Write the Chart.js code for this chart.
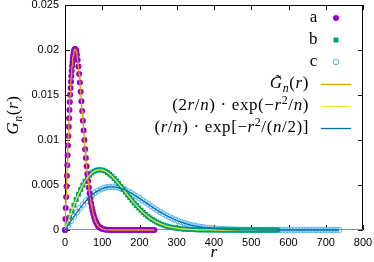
<!DOCTYPE html>
<html>
<head>
<meta charset="utf-8">
<script src="https://cdn.jsdelivr.net/npm/chart.js@4.4.0/dist/chart.umd.min.js"></script>
<style>
  html, body { margin: 0; padding: 0; background: #fff; }
</style>
</head>
<body>
<canvas id="chart" width="374" height="262"></canvas>
<script>
// axis ticks
const xTicks = [0, 100, 200, 300, 400, 500, 600, 700, 800];
const yTicks = [0, 0.005, 0.01, 0.015, 0.02, 0.025];
const yTickLabels = ['0', '0.005', '0.01', '0.015', '0.02', '0.025'];

// series a
const rA = [0,1,2,3,4,5,6,7,8,9,10,11,12,13,14,15,16,17,18,19,20,21,22,23,24,25,26,27,28,29,30,
  32,34,36,38,40,42,44,46,48,50,52,54,56,58,60,62,64,66,68,70,72,74,76,78,80,82,84,86,88,90,92,94,96,98,100,
  105,110,115,120,125,130,135,140,145,150,155,160,165,170,175,180,185,190,195,200,205,210,215,220,225,230,235,240];
const gA = [0,0.00123,0.00245,0.00366,0.00486,0.00603,0.00719,0.00831,0.00940,0.01045,0.01146,0.01243,0.01334,0.01421,0.01502,0.01578,
  0.01648,0.01711,0.01769,0.01821,0.01866,0.01905,0.01937,0.01964,0.01984,0.01999,0.02007,0.0201,0.02007,0.01999,0.01986,
  0.01946,0.01889,0.01817,0.01732,0.01639,0.01537,0.01431,0.01323,0.01213,0.01105,0.00999,0.00897,0.00800,0.00709,0.00623,
  0.00545,0.00473,0.00408,0.00350,0.00298,0.00253,0.00212,0.00178,0.00148,0.00122,0.00100,0.00082,0.00066,0.00053,0.00043,
  0.00034,0.00027,0.00021,0.00017,0.00013,
  0.00007,0.00003,0.00002,0.00001,0,0,0,0,0,0,0,0,0,0,0,0,0,0,0,0,0,0,0,0,0,0,0,0];

// series b
const rB = [0,6,12,18,24,30,36,42,48,54,60,66,72,78,84,90,96,102,108,114,120,126,132,138,144,150,156,162,168,174,180,186,192,198,
  204,210,216,222,228,234,240,246,252,258,264,270,276,282,288,294,300,306,312,318,324,330,336,342,348,354,360,366,372,378,384,390,396,
  402,408,414,420,426,432,438,444,450,456,462,468,474,480,486,492,498,504,510,516,522,528,534,540,546,552,558,564,570];
const gB = [0,0.00071,0.00141,0.00210,0.00276,0.00338,0.00397,0.00451,0.00499,0.00542,0.00579,0.00609,0.00634,0.00652,0.00664,0.00669,
  0.00669,0.00664,0.00654,0.00639,0.00620,0.00598,0.00573,0.00545,0.00516,0.00485,0.00454,0.00422,0.00390,0.00359,0.00329,0.00299,
  0.00271,0.00244,0.00219,0.00195,0.00173,0.00153,0.00134,0.00117,0.00102,0.00088,0.00076,0.00065,0.00056,0.00047,0.00040,0.00034,
  0.00028,0.00024,0.00020,0.00016,0.00013,0.00011,0.00009,0.00007,0.00006,0.00005,0.00004,0.00003,0.00002,0.00002,0.00002,0.00001,
  0.00001,0.00001,0.00001,
  0,0,0,0,0,0,0,0,0,0,0,0,0,0,0,0,0,0,0,0,0,0,0,0,0,0,0,0,0];

// series c
const rC = [0,8,16,24,32,40,48,56,64,72,80,88,96,104,112,120,128,136,144,152,160,168,176,184,192,200,208,216,224,232,240,248,256,
  264,272,280,288,296,304,312,320,328,336,344,352,360,368,376,384,392,400,408,416,424,432,440,448,456,464,472,480,488,496,504,512,
  520,528,536,544,552,560,568,576,584,592,600,608,616,624,632,640,648,656,664,672,680,688,696,704,712,720,728,736];
const gC = [0,0.00051,0.00101,0.00149,0.00196,0.00241,0.00282,0.00321,0.00355,0.00386,0.00413,0.00435,0.00453,0.00466,0.00475,0.00479,
  0.00480,0.00476,0.00470,0.00459,0.00447,0.00431,0.00414,0.00394,0.00374,0.00352,0.00330,0.00307,0.00285,0.00262,0.00241,0.00219,
  0.00199,0.00180,0.00161,0.00144,0.00128,0.00114,0.00100,0.00088,0.00077,0.00066,0.00057,0.00049,0.00042,0.00036,0.00031,0.00026,
  0.00022,0.00018,0.00015,0.00013,0.00010,0.00009,0.00007,0.00006,0.00005,0.00004,0.00003,0.00002,0.00002,0.00002,0.00001,0.00001,0.00001,
  0,0,0,0,0,0,0,0,0,0,0,0,0,0,0,0,0,0,0,0,0,0,0,0,0,0,0,0];

const pts = (rs, gs) => rs.map((r, i) => ({ x: r, y: gs[i] }));

const SERIF = '"Liberation Serif", "Times New Roman", serif';
const LS = 0.6; // extra letter spacing, px

// rich text: [text, style]; style letters: i = italic, ^ = superscript, _ = subscript, g = gap (px in text)
function richFont(s, size) {
  const it = s.includes('i') ? 'italic ' : '';
  const sz = (s.includes('^') || s.includes('_')) ? size * 0.7 : size;
  return it + sz + 'px ' + SERIF;
}
// split into glyphs, keeping combining marks with their base letter
const glyphs = t => t.match(/.[\u0300-\u036f]*/gu) || [];
function segWidth(ctx, t, s, size) {
  if (s === 'g') return +t;
  ctx.font = richFont(s, size);
  return glyphs(t).reduce((w, ch) => w + ctx.measureText(ch).width + LS, 0);
}
function drawRich(ctx, segs, x, yMid, size, align) {
  const w = segs.reduce((acc, [t, s]) => acc + segWidth(ctx, t, s, size), 0);
  let cx = align === 'right' ? x - w : align === 'center' ? x - w / 2 : x;
  ctx.textBaseline = 'alphabetic';
  ctx.textAlign = 'left';
  ctx.fillStyle = '#000';
  segs.forEach(([t, s]) => {
    if (s === 'g') { cx += +t; return; }
    ctx.font = richFont(s, size);
    let dy = 0;
    if (s.includes('^')) dy = -size * 0.4;
    if (s.includes('_')) dy = size * 0.2;
    glyphs(t).forEach(ch => {
      ctx.fillText(ch, cx, yMid + size * 0.26 + dy);
      cx += ctx.measureText(ch).width + LS;
    });
  });
}

const labelG = [['G\u0303', 'i'], ['n', 'i_'], ['(', ''], ['r', 'i'], [')', '']];
const label2 = [['(2', ''], ['r', 'i'], ['/', ''], ['n', 'i'], [')', ''], ['5', 'g'], ['·', ''], ['5', 'g'], ['exp(', ''], ['−', ''], ['r', 'i'], ['2', '^'], ['/', ''], ['n', 'i'], [')', '']];
const label3 = [['(', ''], ['r', 'i'], ['/', ''], ['n', 'i'], [')', ''], ['5', 'g'], ['·', ''], ['5', 'g'], ['exp[', ''], ['−', ''], ['r', 'i'], ['2', '^'], ['/(', ''], ['n', 'i'], ['/2)]', '']];
const yTitle = [['G', 'i'], ['n', 'i_'], ['(', ''], ['r', 'i'], [')', '']];

const frame = {
  id: 'frame',
  beforeDatasetsDraw(chart) {
    const { ctx, chartArea: a, scales: { x, y } } = chart;
    ctx.save();
    ctx.lineWidth = 1;
    ctx.strokeStyle = '#000';
    ctx.beginPath();
    ctx.moveTo(a.left + 0.5, a.bottom);
    ctx.lineTo(a.left + 0.5, a.top + 0.5);
    ctx.lineTo(a.right - 0.5, a.top + 0.5);
    ctx.lineTo(a.right - 0.5, a.bottom);
    xTicks.forEach(v => {
      const px = Math.round(x.getPixelForValue(v)) + 0.5;
      ctx.moveTo(px, a.bottom); ctx.lineTo(px, a.bottom - 5);
      ctx.moveTo(px, a.top); ctx.lineTo(px, a.top + 5);
    });
    yTicks.forEach(v => {
      const py = Math.round(y.getPixelForValue(v)) + 0.5;
      ctx.moveTo(a.left, py); ctx.lineTo(a.left + 5, py);
      ctx.moveTo(a.right, py); ctx.lineTo(a.right - 5, py);
    });
    ctx.stroke();
    ctx.strokeStyle = '#8c8c8c';
    ctx.beginPath();
    ctx.moveTo(a.left, a.bottom - 0.5);
    ctx.lineTo(a.right, a.bottom - 0.5);
    ctx.stroke();
    ctx.restore();
  },
  afterDraw(chart) {
    const { ctx } = chart;
    ctx.save();
    // axis titles
    drawRich(ctx, [['r', 'i']], 214, 253, 17, 'center');
    ctx.translate(14, 115);
    ctx.rotate(-Math.PI / 2);
    drawRich(ctx, yTitle, 0, 0, 17, 'center');
    ctx.restore();

    // key
    ctx.save();
    const ds = chart.data.datasets;
    const pointRows = [['a', 18, 0], ['b', 40, 1], ['c', 62, 2]];
    pointRows.forEach(([t, yy, i]) => {
      drawRich(ctx, [[t, '']], 318, yy, 17, 'right');
      const d = ds[i];
      ctx.fillStyle = d.backgroundColor;
      ctx.strokeStyle = d.borderColor;
      ctx.lineWidth = d.borderWidth;
      Chart.helpers.drawPoint(ctx, { pointStyle: d.pointStyle, radius: d.pointRadius, borderWidth: d.borderWidth }, 336, yy);
    });
    const lineRows = [[labelG, 84, 3], [label2, 106, 4], [label3, 128, 5]];
    lineRows.forEach(([segs, yy, i]) => {
      drawRich(ctx, segs, 309, yy, 17, 'right');
      ctx.strokeStyle = ds[i].borderColor;
      ctx.lineWidth = 1.3;
      ctx.beginPath();
      ctx.moveTo(321, yy + 0.5);
      ctx.lineTo(351, yy + 0.5);
      ctx.stroke();
    });
    ctx.restore();
  }
};

new Chart(document.getElementById('chart'), {
  type: 'scatter',
  data: {
    datasets: [
      { label: 'a', data: pts(rA, gA), pointStyle: 'circle', pointRadius: 3, borderWidth: 0,
        backgroundColor: '#9400d3', borderColor: '#9400d3', showLine: false, order: 4, clip: false },
      { label: 'b', data: pts(rB, gB), pointStyle: 'rect', pointRadius: 3.5, borderWidth: 0,
        backgroundColor: '#009e73', borderColor: '#009e73', showLine: false, order: 5, clip: false },
      { label: 'c', data: pts(rC, gC), pointStyle: 'circle', pointRadius: 2.8, borderWidth: 1,
        backgroundColor: 'rgba(0,0,0,0)', borderColor: '#56b4e9', showLine: false, order: 6, clip: false },
      { label: 'G~n(r)', data: pts(rA, gA), showLine: true, pointRadius: 0, borderWidth: 1.3,
        borderColor: '#e69f00', backgroundColor: '#e69f00', order: 3, clip: false },
      { label: '(2r/n)exp(-r^2/n)', data: pts(rB, gB), showLine: true, pointRadius: 0, borderWidth: 1.3,
        borderColor: '#f0e442', backgroundColor: '#f0e442', order: 2, clip: false },
      { label: '(r/n)exp[-r^2/(n/2)]', data: pts(rC, gC), showLine: true, pointRadius: 0, borderWidth: 1.3,
        borderColor: '#0072b2', backgroundColor: '#0072b2', order: 1, clip: false }
    ]
  },
  options: {
    responsive: false,
    animation: false,
    devicePixelRatio: 1,
    layout: { padding: { top: 5, right: 11, left: 0, bottom: 0 } },
    plugins: { legend: { display: false }, tooltip: { enabled: false } },
    scales: {
      x: {
        type: 'linear', min: 0, max: 800,
        afterBuildTicks: s => { s.ticks = xTicks.map(v => ({ value: v })); },
        afterFit: s => { s.height = 32; s.paddingLeft = 0; s.paddingRight = 0; },
        grid: { display: false, drawTicks: false },
        border: { display: false },
        ticks: { color: '#000', padding: 6, maxRotation: 0, autoSkip: false,
          font: { family: '"Liberation Sans", Arial, sans-serif', size: 11 } }
      },
      y: {
        type: 'linear', min: 0, max: 0.025,
        afterBuildTicks: s => { s.ticks = yTicks.map(v => ({ value: v })); },
        afterFit: s => { s.width = 65; s.paddingTop = 0; s.paddingBottom = 0; },
        grid: { display: false, drawTicks: false },
        border: { display: false },
        ticks: { color: '#000', padding: 6, autoSkip: false,
          callback: (v, i) => yTickLabels[i],
          font: { family: '"Liberation Sans", Arial, sans-serif', size: 11 } }
      }
    }
  },
  plugins: [frame]
});
</script>
</body>
</html>
